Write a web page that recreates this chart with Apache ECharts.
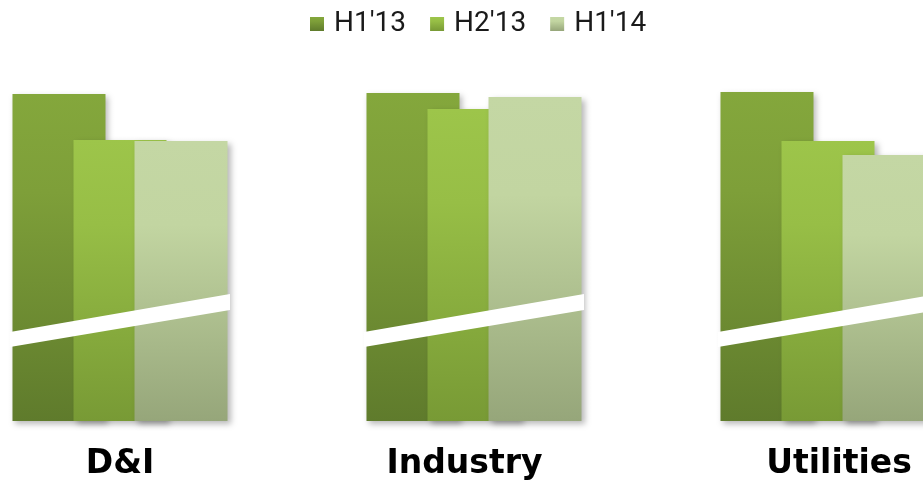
<!DOCTYPE html>
<html>
<head>
<meta charset="utf-8">
<script src="https://cdn.jsdelivr.net/npm/echarts@6/dist/echarts.min.js"></script>
<style>
  html, body { margin: 0; padding: 0; background: #ffffff; }
  #chart { width: 923px; height: 480px; }
</style>
</head>
<body>
<div id="chart"></div>
<script>
// Segments and half-year periods
const categories = ['D&I', 'Industry', 'Utilities'];
const periods = ["H1'13", "H2'13", "H1'14"];

// Bar heights per period (same units as the value axis)
const h1_13 = [327, 328, 329];
const h2_13 = [281, 312, 280];
const h1_14 = [280, 324, 266];

// Axis-break stripe: value at the left and right end of each group
const breakTopLeft = 89;
const breakTopRight = 127;
const breakBottomLeft = 74;
const breakBottomRight = 111;

const BAR_W = 93;
const GROUP_HALF = 110;

// Small horizontal nudges of the segment names under their groups
const labelPadding = [[0, 0, 0, 0], [0, 19, 0, 0], [0, 0, 0, 22]];

function grad(top, mid, bottom) {
  return new echarts.graphic.LinearGradient(0, 0, 0, 1, [
    { offset: 0, color: top },
    { offset: 0.3, color: mid },
    { offset: 1, color: bottom }
  ]);
}

const fills = [
  grad('#84a73c', '#7e9f39', '#5f7b2c'),
  grad('#9dc54a', '#97be46', '#789a35'),
  grad('#c4d7a4', '#c2d5a1', '#96a67a')
];

const seriesValues = [h1_13, h2_13, h1_14];

const barSeries = periods.map((name, i) => ({
  name: name,
  type: 'bar',
  data: seriesValues[i],
  barWidth: BAR_W,
  barGap: '-34.4%',
  itemStyle: {
    color: fills[i],
    shadowColor: 'rgba(0,0,0,0.28)',
    shadowBlur: 6,
    shadowOffsetX: 3,
    shadowOffsetY: 3
  },
  emphasis: { disabled: true }
}));

// White diagonal stripe across each group of bars
const breakSeries = {
  type: 'custom',
  name: 'break',
  z: 10,
  silent: true,
  data: categories.map((c, i) => [i]),
  renderItem: function (params, api) {
    const idx = api.value(0);
    const tl = api.coord([idx, breakTopLeft]);
    const tr = api.coord([idx, breakTopRight]);
    const bl = api.coord([idx, breakBottomLeft]);
    const br = api.coord([idx, breakBottomRight]);
    const cx = tl[0];
    return {
      type: 'polygon',
      shape: {
        points: [
          [cx - GROUP_HALF, tl[1]],
          [cx + GROUP_HALF, tr[1]],
          [cx + GROUP_HALF, br[1]],
          [cx - GROUP_HALF, bl[1]]
        ]
      },
      style: { fill: '#ffffff' }
    };
  }
};

const chart = echarts.init(document.getElementById('chart'), null, { renderer: 'canvas' });
chart.setOption({
  animation: false,
  backgroundColor: '#ffffff',
  legend: {
    data: periods,
    top: 5,
    left: 305,
    itemWidth: 14,
    itemHeight: 14,
    itemGap: 24,
    icon: 'rect',
    textStyle: {
      fontFamily: 'Roboto',
      fontSize: 28,
      color: '#1a1a1a',
      padding: [0, 0, 0, 5]
    }
  },
  grid: {
    left: -57,
    right: -82,
    top: 71,
    bottom: 59,
    outerBoundsMode: 'none',
    containLabel: false
  },
  xAxis: {
    type: 'category',
    data: categories.map((c, i) => ({
      value: c,
      textStyle: { padding: labelPadding[i] }
    })),
    axisLine: { show: false },
    axisTick: { show: false },
    axisLabel: {
      fontFamily: 'DejaVu Sans',
      fontWeight: 'bold',
      fontSize: 33,
      color: '#000000',
      margin: 27
    }
  },
  yAxis: {
    type: 'value',
    min: 0,
    max: 350,
    show: false,
    splitLine: { show: false }
  },
  series: barSeries.concat([breakSeries])
});
</script>
</body>
</html>
